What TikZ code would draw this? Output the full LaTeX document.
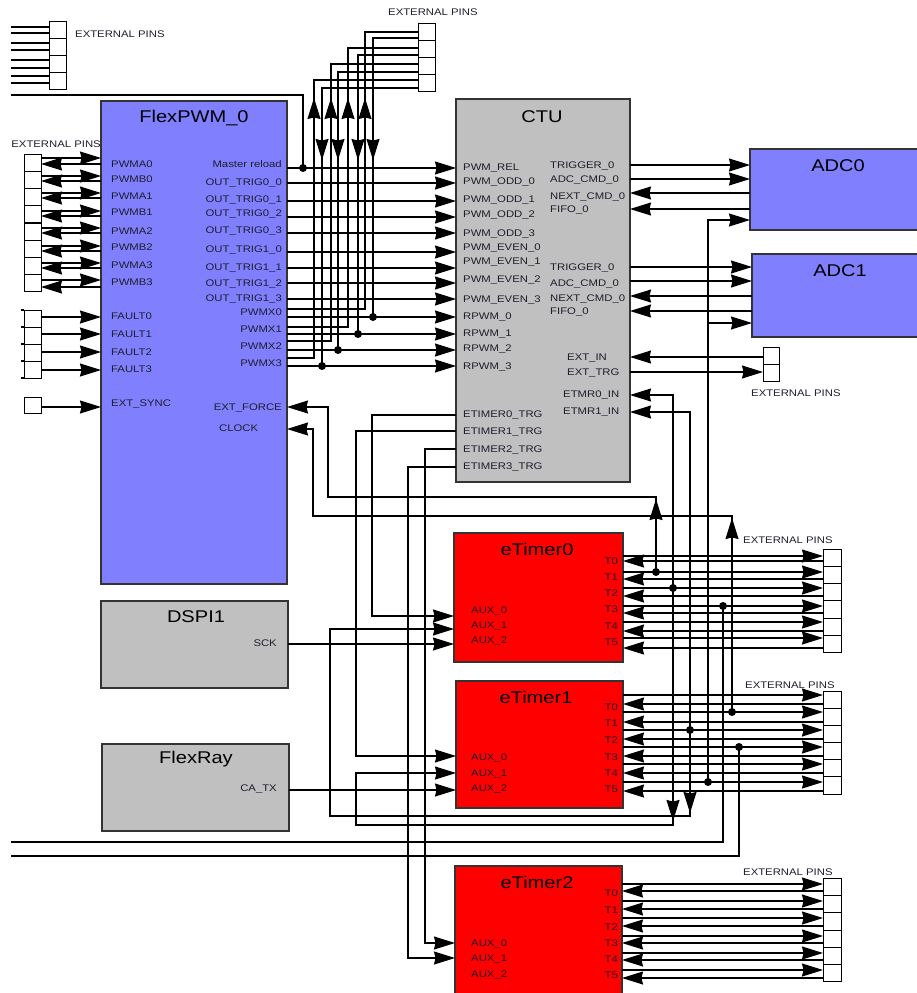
\documentclass[tikz,border=0pt]{standalone}
\usepackage{fontspec}
\setmainfont{Liberation Sans}[FakeStretch=1.18]
\usetikzlibrary{arrows.meta}
\definecolor{pwmblue}{RGB}{128,128,255}
\definecolor{ctugray}{RGB}{192,192,192}
\definecolor{tred}{RGB}{255,0,0}
\definecolor{labc}{RGB}{30,30,45}
\tikzset{
  wire/.style={line width=1.05pt,draw=black},
  arr/.style={wire,-{Stealth[length=21pt,width=13pt,inset=1.5pt]}},
  blk/.style={draw=black!80,line width=1.4pt,anchor=north west,inner sep=0,outer sep=0},
  lbl/.style={font=\fontsize{9.6}{10}\selectfont,text=labc,inner sep=0},
  lblw/.style={lbl,anchor=base west,yshift=-3.4pt},
  lble/.style={lbl,anchor=base east,yshift=-3.4pt},
  ttl/.style={font=\fontsize{17}{18}\selectfont,text=black,inner sep=0,anchor=base,yshift=-6pt},
  pinbox/.style={draw,line width=1pt,fill=white,minimum width=17pt,minimum height=17.2pt,inner sep=0,outer sep=0,anchor=north west},
  jdot/.style={circle,fill=black,inner sep=0,minimum size=8pt},
}
\begin{document}
\begin{tikzpicture}[x=1pt,y=-1pt]
\useasboundingbox (0,0) rectangle (916,993);

% ---------- blocks ----------
\node[blk,fill=pwmblue,minimum width=186pt,minimum height=483pt] (pwm) at (101,101) {};
\node[ttl] (pwmT) at (194,116) {FlexPWM\_0};
\node[blk,fill=ctugray,minimum width=174pt,minimum height=383pt] (ctu) at (456,99) {};
\node[ttl] (ctuT) at (542,116) {CTU};
\node[blk,fill=pwmblue,minimum width=172pt,minimum height=81pt] (adc0) at (750,149) {};
\node[ttl] (adc0T) at (838,165) {ADC0};
\node[blk,fill=pwmblue,minimum width=170pt,minimum height=83pt] (adc1) at (752,254) {};
\node[ttl] (adc1T) at (840,270) {ADC1};
\node[blk,fill=ctugray,minimum width=187pt,minimum height=87pt] (dspi) at (101,601) {};
\node[ttl] (dspiT) at (196,616) {DSPI1};
\node[blk,fill=ctugray,minimum width=187pt,minimum height=87pt] (fray) at (102,744) {};
\node[ttl] (frayT) at (196,757) {FlexRay};
\node[blk,fill=tred,minimum width=169pt,minimum height=129pt] (et0) at (454,533) {};
\node[ttl] (et0T) at (537,549) {eTimer0};
\node[blk,fill=tred,minimum width=167pt,minimum height=127pt] (et1) at (456,681) {};
\node[ttl] (et1T) at (536,697) {eTimer1};
\node[blk,fill=tred,minimum width=167pt,minimum height=150pt] (et2) at (455,866) {};
\node[ttl] (et2T) at (537,882) {eTimer2};

% ---------- labels ----------
\foreach \y/\t [count=\i] in {164/PWMA0,179/PWMB0,196/PWMA1,212/PWMB1,231/PWMA2,247/PWMB2,265/PWMA3,282/PWMB3,316/FAULT0,334/FAULT1,352/FAULT2,369/FAULT3,403/EXT\_SYNC}
  \node[lblw] (pwmL\i) at (111,\y) {\t};
\foreach \y/\t [count=\i] in {164/Master reload,182/OUT\_TRIG0\_0,199/OUT\_TRIG0\_1,213/OUT\_TRIG0\_2,230/OUT\_TRIG0\_3,249/OUT\_TRIG1\_0,267/OUT\_TRIG1\_1,283/OUT\_TRIG1\_2,298/OUT\_TRIG1\_3,312/PWMX0,329/PWMX1,346/PWMX2,363/PWMX3,407/EXT\_FORCE}
  \node[lble] (pwmR\i) at (282,\y) {\t};
\node[lblw] (pwmClk) at (219,428) {CLOCK};
\foreach \y/\t [count=\i] in {167/PWM\_REL,181/PWM\_ODD\_0,199/PWM\_ODD\_1,214/PWM\_ODD\_2,233/PWM\_ODD\_3,247/PWM\_EVEN\_0,261/PWM\_EVEN\_1,279/PWM\_EVEN\_2,299/PWM\_EVEN\_3,316/RPWM\_0,333/RPWM\_1,348/RPWM\_2,366/RPWM\_3,414/ETIMER0\_TRG,431/ETIMER1\_TRG,449/ETIMER2\_TRG,466/ETIMER3\_TRG}
  \node[lblw] (ctuL\i) at (463,\y) {\t};
\foreach \y/\t [count=\i] in {165/TRIGGER\_0,179/ADC\_CMD\_0,196/NEXT\_CMD\_0,209/FIFO\_0,267/TRIGGER\_0,283/ADC\_CMD\_0,298/NEXT\_CMD\_0,311/FIFO\_0}
  \node[lblw] (ctuR\i) at (550,\y) {\t};
\node[lblw] (ctuEI) at (567,357) {EXT\_IN};
\node[lblw] (ctuET) at (567,372) {EXT\_TRG};
\node[lblw] (ctuM0) at (563,394) {ETMR0\_IN};
\node[lblw] (ctuM1) at (563,411) {ETMR1\_IN};
\node[lble] (sck) at (277,643) {SCK};
\node[lble] (catx) at (277,788) {CA\_TX};
\foreach \y/\t [count=\i] in {561/T0,577/T1,593/T2,609/T3,626/T4,642/T5}
  \node[lble] (e0T\i) at (618,\y) {\t};
\foreach \y/\t [count=\i] in {707/T0,723/T1,740/T2,757/T3,773/T4,789/T5}
  \node[lble] (e1T\i) at (618,\y) {\t};
\foreach \y/\t [count=\i] in {893/T0,910/T1,927/T2,943/T3,959/T4,975/T5}
  \node[lble] (e2T\i) at (618,\y) {\t};
\foreach \y/\t [count=\i] in {610/AUX\_0,625/AUX\_1,640/AUX\_2}
  \node[lblw] (e0A\i) at (471,\y) {\t};
\foreach \y/\t [count=\i] in {757/AUX\_0,773/AUX\_1,788/AUX\_2}
  \node[lblw] (e1A\i) at (471,\y) {\t};
\foreach \y/\t [count=\i] in {943/AUX\_0,958/AUX\_1,974/AUX\_2}
  \node[lblw] (e2A\i) at (471,\y) {\t};

% ---------- external pin columns ----------
\foreach \i in {0,...,3} \node[pinbox] (tl\i) at (49,{21+17*\i}) {};
\node[lblw] (xpA) at (75,34) {EXTERNAL PINS};
\foreach \y in {27,33,43,50,60,68,76,83} \draw[wire] (11,\y) -- (tl0.west |- 0,\y);

\foreach \i in {0,...,7} \node[pinbox] (lp\i) at (24,{154+17.25*\i}) {};
\node[lble] (xpB) at (101,144) {EXTERNAL PINS};
\foreach \i in {0,...,3} \node[pinbox] (fp\i) at (24,{310+17*\i}) {};
\foreach \y in {310,327,344,361,378} \draw[wire] (21,\y) -- (fp0.west |- 0,\y);
\node[pinbox,minimum height=16pt] (sp) at (24,397) {};

\foreach \i in {0,...,3} \node[pinbox] (tp\i) at (418,{23+17.25*\i}) {};
\node[lblw] (xpC) at (388,12) {EXTERNAL PINS};

\node[pinbox,minimum width=16pt,minimum height=17pt] (cp0) at (763,347) {};
\node[pinbox,minimum width=16pt,minimum height=17pt] (cp1) at (763,364) {};
\node[lblw] (xpD) at (751,393) {EXTERNAL PINS};

\foreach \i in {0,...,5} \node[pinbox,minimum width=18pt,minimum height=17.33pt] (e0p\i) at (823,{549+17.33*\i}) {};
\node[lblw] (xpE) at (743,540) {EXTERNAL PINS};
\foreach \i in {0,...,5} \node[pinbox,minimum width=18pt,minimum height=17.17pt] (e1p\i) at (823,{691+17.17*\i}) {};
\node[lblw] (xpF) at (745,685) {EXTERNAL PINS};
\foreach \i in {0,...,5} \node[pinbox,minimum width=18pt,minimum height=17.33pt] (e2p\i) at (823,{878+17.33*\i}) {};
\node[lblw] (xpG) at (743,872) {EXTERNAL PINS};

% ---------- FlexPWM left pins ----------
\foreach \a/\b in {158/164,176/181,193/198,211/216,228/233,246/251,263/268,280/287}{
  \draw[arr] (lp0.east |- 0,\a) -- (pwm.west |- 0,\a);
  \draw[arr] (pwm.west |- 0,\b) -- (lp0.east |- 0,\b);
}
\foreach \y in {317,334,352,370} \draw[arr] (fp0.east |- 0,\y) -- (pwm.west |- 0,\y);
\draw[arr] (sp.east |- 0,407) -- (pwm.west |- 0,407);

% ---------- master reload ----------
\coordinate (mr) at (303,168);
\draw[wire] (11,95) -- (303,95) -- (mr);
\node[jdot] (mrd) at (mr) {};

% ---------- FlexPWM -> CTU ----------
\foreach \y in {168,183,201,217,233,252,268,283,299,317,334,350,366}
  \draw[arr] (pwm.east |- 0,\y) -- (ctu.west |- 0,\y);

% ---------- PWMX buses ----------
\foreach \yo/\xu/\yt/\xd/\yp/\yq in {309/365/32/373/38/317,327/348/48/358/55/334,341/331/64/338/72/350,358/314/80/322/88/366}{
  \draw[wire] (pwm.east |- 0,\yo) -- (\xu,\yo) -- (\xu,\yt) -- (tp0.west |- 0,\yt);
  \draw[arr] (\xu,128) -- (\xu,98);
  \draw[wire] (tp0.west |- 0,\yp) -- (\xd,\yp) -- (\xd,\yq);
  \draw[arr] (\xd,130) -- (\xd,160);
  \node[jdot] (px\xd) at (\xd,\yq) {};
}

% ---------- CTU <-> ADC ----------
\foreach \y in {165,179} \draw[arr] (ctu.east |- 0,\y) -- (adc0.west |- 0,\y);
\foreach \y in {193,209} \draw[arr] (adc0.west |- 0,\y) -- (ctu.east |- 0,\y);
\foreach \y in {267,281} \draw[arr] (ctu.east |- 0,\y) -- (adc1.west |- 0,\y);
\foreach \y in {296,311} \draw[arr] (adc1.west |- 0,\y) -- (ctu.east |- 0,\y);
\coordinate (d5) at (708,782);
\draw[arr] (d5) -- (708,220) -- (adc0.west |- 0,220);
\draw[arr] (708,323) -- (adc1.west |- 0,323);

% ---------- CTU external pins ----------
\draw[arr] (cp0.west |- 0,357) -- (ctu.east |- 0,357);
\draw[arr] (ctu.east |- 0,372) -- (cp1.west |- 0,372);

% ---------- eTimer pin lines ----------
\foreach \y in {556,572,588,606,622,638} \draw[arr] (et0.east |- 0,\y) -- (e0p0.west |- 0,\y);
\foreach \y in {561,579,596,613,631,648} \draw[arr] (e0p0.west |- 0,\y) -- (et0.east |- 0,\y);
\foreach \y in {695,712,730,747,764,782} \draw[arr] (et1.east |- 0,\y) -- (e1p0.west |- 0,\y);
\foreach \y in {704,722,739,756,773,791} \draw[arr] (e1p0.west |- 0,\y) -- (et1.east |- 0,\y);
\foreach \y in {884,901,918,936,953,970} \draw[arr] (et2.east |- 0,\y) -- (e2p0.west |- 0,\y);
\foreach \y in {891,909,926,943,960,978} \draw[arr] (e2p0.west |- 0,\y) -- (et2.east |- 0,\y);

% ---------- feedback connections ----------
\coordinate (d0) at (656,572);
\coordinate (d1) at (673,588);
\coordinate (d2) at (723,606);
\coordinate (d3) at (732,712);
\coordinate (d4) at (690,730);
\coordinate (d6) at (739,747);
\draw[arr] (d0) -- (656,497) -- (328,497) -- (328,407) -- (pwm.east |- 0,407);
\draw[arr] (656,530) -- (656,499);
\draw[arr] (d3) -- (732,516) -- (313,516) -- (313,429) -- (pwm.east |- 0,429);
\draw[arr] (732,548) -- (732,518);
\draw[arr] (d1) -- (673,395) -- (ctu.east |- 0,395);
\draw[arr] (d1) -- (673,825) -- (356,825) -- (356,773) -- (et1.west |- 0,773);
\draw[arr] (673,792) -- (673,821);
\draw[arr] (d4) -- (690,412) -- (ctu.east |- 0,412);
\draw[arr] (d4) -- (690,816) -- (330,816) -- (330,629) -- (et0.west |- 0,629);
\draw[arr] (690,785) -- (690,813);
\draw[wire] (d2) -- (723,842) -- (11,842);
\draw[wire] (d6) -- (739,856) -- (11,856);
\foreach \c in {d0,d1,d2,d3,d4,d5,d6} \node[jdot] (n\c) at (\c) {};

% ---------- CTU triggers -> eTimer AUX ----------
\draw[arr] (ctu.west |- 0,415) -- (372,415) -- (372,616) -- (et0.west |- 0,616);
\draw[arr] (ctu.west |- 0,431) -- (356,431) -- (356,756) -- (et1.west |- 0,756);
\draw[arr] (ctu.west |- 0,449) -- (425,449) -- (425,943) -- (et2.west |- 0,943);
\draw[arr] (ctu.west |- 0,467) -- (408,467) -- (408,958) -- (et2.west |- 0,958);
\draw[arr] (dspi.east |- 0,644) -- (et0.west |- 0,644);
\draw[arr] (fray.east |- 0,790) -- (et1.west |- 0,790);
\end{tikzpicture}
\end{document}
